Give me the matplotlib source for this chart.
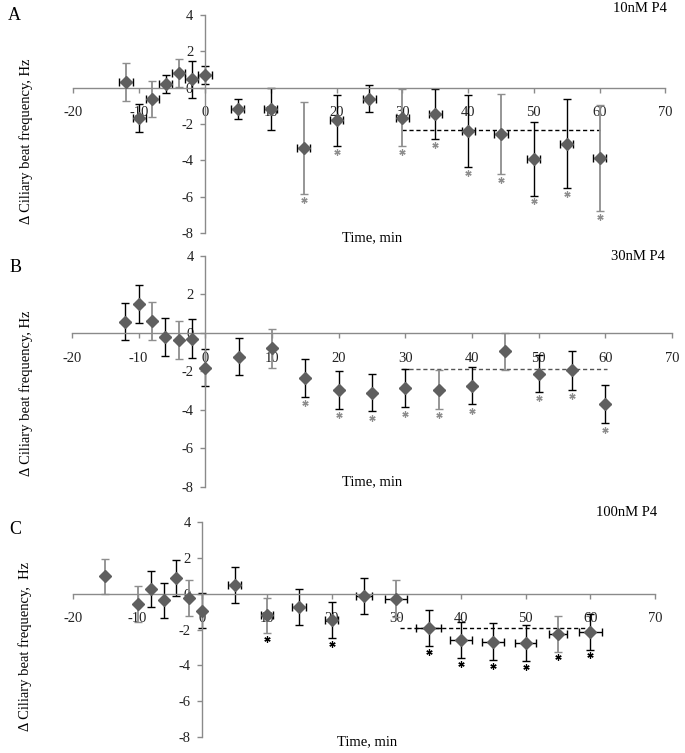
import numpy as np
import matplotlib
matplotlib.use('Agg')
from matplotlib import pyplot as plt

plt.rcParams['font.family'] = ['Liberation Serif', 'DejaVu Serif']
plt.rcParams['font.size'] = 10
plt.rcParams['axes.unicode_minus'] = False

# A - 10nM P4
time_a = [-12, -10, -8, -6, -4, -2, 0, 5, 10, 15, 20, 25, 30, 35, 40, 45, 50, 55, 60]
cbf_a = [0.31, -1.67, -0.64, 0.22, 0.81, 0.46, 0.68, -1.16, -1.16, -3.34, -1.80,
         -0.61, -1.65, -1.47, -2.40, -2.57, -3.91, -3.08, -3.87]
err_a = [1.03, 0.76, 0.98, 0.50, 0.77, 1.03, 0.50, 0.55, 1.15, 2.53, 1.40,
         0.75, 1.56, 1.37, 1.97, 2.20, 2.03, 2.45, 2.91]
terr_a = [1.0] * 19
gray_a = [-12, -8, -4, 15, 30, 45, 60]
sig_a = [15, 20, 30, 35, 40, 45, 50, 55, 60]
mean_a = -2.31

# B - 30nM P4
time_b = [-12, -10, -8, -6, -4, -2, 0, 5, 10, 15, 20, 25, 30, 35, 40, 45, 50, 55, 60]
cbf_b = [0.59, 1.52, 0.62, -0.21, -0.36, -0.29, -1.80, -1.23, -0.80, -2.35, -2.98,
         -3.10, -2.87, -2.94, -2.75, -0.95, -2.11, -1.94, -3.70]
err_b = [0.98, 0.98, 0.98, 0.98, 0.98, 1.00, 0.98, 0.95, 1.00, 0.98, 0.98,
         0.98, 1.00, 1.00, 0.96, 0.97, 0.95, 1.00, 1.00]
terr_b = [0.9] * 19
gray_b = [-8, -4, 10, 35, 45]
sig_b = [15, 20, 25, 30, 35, 40, 50, 55, 60]
mean_b = -1.89

# C - 100nM P4
time_c = [-15, -10, -8, -6, -4, -2, 0, 5, 10, 15, 20, 25, 30, 35, 40, 45, 50, 55, 60]
cbf_c = [0.96, -0.57, 0.25, -0.38, 0.87, -0.23, -0.94, 0.47, -1.21, -0.75, -1.49,
         -0.13, -0.28, -1.92, -2.60, -2.68, -2.77, -2.23, -2.13]
err_c = [0.98, 1.00, 1.00, 1.00, 0.99, 1.00, 1.00, 1.00, 0.99, 1.00, 1.00,
         1.00, 1.02, 1.00, 1.00, 1.03, 1.00, 1.00, 1.00]
terr_c = [0, 0, 0, 0, 0, 0, 0, 1.0, 1.0, 1.1, 1.0, 1.3, 1.7, 1.9, 1.7, 1.7, 1.6, 1.4, 1.8]
gray_c = [-15, -10, -2, 10, 30, 55]
sig_c = [10, 20, 35, 40, 45, 50, 55, 60]
mean_c = -1.92

MARK = '#5f5f5f'
GREY = '#8e8e8e'
AXC = '#8a8a8a'

fig = plt.figure(figsize=(6.85, 7.53), dpi=100)
ax_a = fig.add_axes([0.1072, 0.6906, 0.8642, 0.2895])
ax_b = fig.add_axes([0.1051, 0.3533, 0.8759, 0.3068])
ax_c = fig.add_axes([0.1066, 0.02125, 0.8496, 0.2855])


def draw(ax, t, y, yerr, terr, gray, sig, mean, span, star_col, dash_col, xcap):
    t = np.array(t)
    y = np.array(y)
    yerr = np.array(yerr)
    terr = np.array(terr)
    g = np.isin(t, gray)
    has_t = terr > 0
    ax.errorbar(t[has_t], y[has_t], xerr=terr[has_t], fmt='none', ecolor='k',
                elinewidth=1, capsize=xcap, capthick=1, zorder=2)
    ax.errorbar(t[~g], y[~g], yerr=yerr[~g], fmt='none', ecolor='k',
                elinewidth=1, capsize=2.8, capthick=1, zorder=2)
    ax.errorbar(t[g], y[g], yerr=yerr[g], fmt='none', ecolor=GREY,
                elinewidth=1.3, capsize=2.8, capthick=1, zorder=2)
    ax.hlines(mean, span[0], span[1], colors=dash_col, linestyles=(0, (3, 2)), lw=1, zorder=1.8)
    ax.plot(t, y, 'D', color=MARK, ms=6.5, mec=MARK, ls='none', zorder=4)
    s = np.isin(t, sig)
    ax.plot(t[s], y[s] - yerr[s] - 0.32, marker=(6, 2, 0), ms=4.5, mew=0.9,
            color=star_col, ls='none', zorder=4)


def setup(ax, title, ylabel, title_xy, ylab_xy, xlab_xy):
    ax.set_xlim(-20, 70)
    ax.set_ylim(-8, 4)
    ax.spines['left'].set_position(('data', 0))
    ax.spines['bottom'].set_position(('data', 0))
    ax.spines[['top', 'right']].set_visible(False)
    for s in ('left', 'bottom'):
        ax.spines[s].set_color(AXC)
        ax.spines[s].set_linewidth(1)
    ax.set_xticks(range(-20, 71, 10))
    ax.set_yticks(range(-8, 5, 2))
    ax.tick_params(direction='out', length=3.5, width=1, color=AXC,
                   labelcolor='#222222', labelsize=10.5)
    ax.tick_params(axis='x', pad=10)
    ax.tick_params(axis='y', pad=5)
    ax.set_xlabel('Time, min', fontsize=10.5, va='center')
    ax.xaxis.set_label_coords(*xlab_xy)
    ax.set_ylabel(ylabel, fontsize=10.5)
    ax.yaxis.set_label_coords(*ylab_xy)
    ax.text(title_xy[0], title_xy[1], title, transform=ax.transAxes,
            ha='right', va='center', fontsize=10.5)


draw(ax_a, time_a, cbf_a, err_a, terr_a, gray_a, sig_a, mean_a, (30, 60), GREY, 'k', 2.8)
draw(ax_b, time_b, cbf_b, err_b, terr_b, gray_b, sig_b, mean_b, (29.5, 60.3), GREY, '#555555', 0)
draw(ax_c, time_c, cbf_c, err_c, terr_c, gray_c, sig_c, mean_c, (30.5, 60), 'k', 'k', 2.8)

setup(ax_a, '10nM P4', '\u0394 Ciliary beat frequency, Hz',
      (1.003, 1.032), (-0.069, 0.42), (0.505, -0.022))
setup(ax_b, '30nM P4', '\u0394 Ciliary beat frequency, Hz',
      (0.988, 0.996), (-0.065, 0.407), (0.5, 0.022))
setup(ax_c, '100nM P4', '\u0394 Ciliary beat frequency,  Hz',
      (1.003, 1.042), (-0.071, 0.419), (0.505, -0.022))

fig.text(8 / 685, 1 - 15 / 753, 'A', fontsize=13, ha='left', va='center')
fig.text(10 / 685, 1 - 268 / 753, 'B', fontsize=13, ha='left', va='center')
fig.text(9 / 685, 1 - 530 / 753, 'C', fontsize=13, ha='left', va='center')

fig.savefig('out.png', dpi=100)
